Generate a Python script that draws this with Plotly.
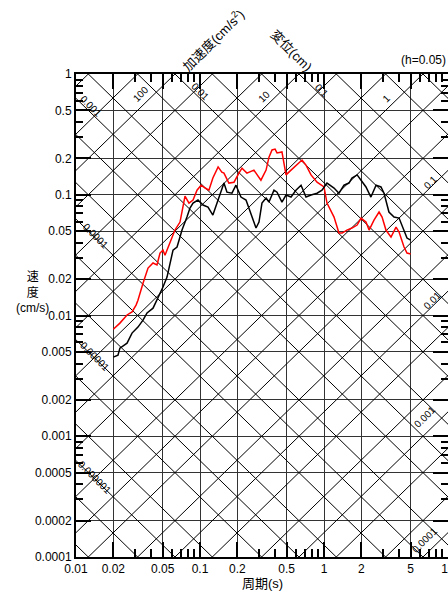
import numpy as np
import plotly.graph_objects as go

# response spectra (period s, pseudo velocity cm/s), h=0.05
red_T = [0.020, 0.0226, 0.0258, 0.0283, 0.0305, 0.0316, 0.0347, 0.0381, 0.0418, 0.045,
         0.0476, 0.0503, 0.0522, 0.0552, 0.0594, 0.0628, 0.069, 0.073, 0.0757, 0.0815,
         0.0879, 0.0946, 0.102, 0.110, 0.118, 0.127, 0.140, 0.150, 0.156, 0.171,
         0.188, 0.206, 0.218, 0.239, 0.272, 0.310, 0.341, 0.360, 0.381, 0.403,
         0.418, 0.458, 0.494, 0.542, 0.594, 0.665, 0.716, 0.786, 0.879, 1.0,
         1.057, 1.205, 1.32, 1.40, 1.53, 1.68, 1.85, 1.99, 2.18, 2.31,
         2.53, 2.78, 2.94, 3.16, 3.47, 3.81, 4.03, 4.42, 4.67, 5.0]
red_sv = [0.0077, 0.00865, 0.0101, 0.0107, 0.0122, 0.0134, 0.0185, 0.0247, 0.0272, 0.0262,
          0.0329, 0.0348, 0.0316, 0.0362, 0.0446, 0.051, 0.0594, 0.0822, 0.0976, 0.0853,
          0.0904, 0.109, 0.120, 0.1137, 0.109, 0.1375, 0.170, 0.154, 0.151, 0.125,
          0.127, 0.151, 0.166, 0.151, 0.160, 0.132, 0.160, 0.205, 0.235, 0.239,
          0.222, 0.226, 0.146, 0.160, 0.176, 0.194, 0.176, 0.146, 0.127, 0.116,
          0.0853, 0.0653, 0.0482, 0.0482, 0.051, 0.053, 0.0561, 0.0641, 0.0594, 0.051,
          0.0617, 0.0719, 0.0653, 0.051, 0.0446, 0.054, 0.0491, 0.0369, 0.0329, 0.0323]

black_T = [0.020, 0.0218, 0.0226, 0.0258, 0.0283, 0.0316, 0.0347, 0.0374, 0.0418, 0.045,
           0.0503, 0.0542, 0.0573, 0.0606, 0.0653, 0.0716, 0.0785, 0.083, 0.0879, 0.0963,
           0.1057, 0.116, 0.127, 0.140, 0.150, 0.156, 0.165, 0.181, 0.195, 0.214,
           0.235, 0.258, 0.283, 0.299, 0.316, 0.341, 0.360, 0.395, 0.418, 0.458,
           0.494, 0.542, 0.594, 0.653, 0.716, 0.786, 0.879, 0.963, 1.057, 1.205,
           1.32, 1.45, 1.59, 1.68, 1.85, 1.99, 2.18, 2.39, 2.63, 2.88,
           3.05, 3.34, 3.67, 4.03, 4.42, 4.67, 5.0]
black_sv = [0.00452, 0.0047, 0.00537, 0.0059, 0.00715, 0.00802, 0.00916, 0.0105, 0.0115, 0.0134,
            0.0172, 0.0208, 0.0262, 0.0348, 0.0369, 0.051, 0.0653, 0.0776, 0.0853, 0.0904,
            0.0822, 0.0791, 0.0679, 0.0904, 0.109, 0.125, 0.105, 0.103, 0.120, 0.0957,
            0.0904, 0.0705, 0.053, 0.0594, 0.0853, 0.0939, 0.087, 0.109, 0.105, 0.087,
            0.0995, 0.0957, 0.109, 0.120, 0.0957, 0.0995, 0.103, 0.109, 0.125, 0.1137,
            0.103, 0.120, 0.125, 0.1375, 0.146, 0.132, 0.116, 0.0957, 0.120, 0.116,
            0.103, 0.0719, 0.0653, 0.0641, 0.051, 0.0438, 0.0421]

# axes ticks
x_ticks = [0.01, 0.02, 0.05, 0.1, 0.2, 0.5, 1, 2, 5, 10]
x_labels = ["0.01", "0.02", "0.05", "0.1", "0.2", "0.5", "1", "2", "5", "10"]
y_ticks = [0.0001, 0.0002, 0.0005, 0.001, 0.002, 0.005, 0.01, 0.02, 0.05, 0.1, 0.2, 0.5, 1]
y_labels = ["0.0001", "0.0002", "0.0005", "0.001", "0.002", "0.005", "0.01", "0.02",
            "0.05", "0.1", "0.2", "0.5", "1"]

# diagonal grid values (1-2-5 series)
disp_vals = [m * 10.0 ** k for k in range(-7, 1) for m in (1, 2, 5)]
acc_vals = [m * 10.0 ** k for k in range(-5, 4) for m in (1, 2, 5)]

# diagonal labels: (text, pixel x, pixel y)
acc_labels = [("100", 140, 94), ("10", 264, 96), ("1", 386, 98),
              ("0.1", 430, 182), ("0.01", 432, 300), ("0.001", 424, 417), ("0.0001", 424, 540)]
disp_labels = [("0.001", 90, 106), ("0.0001", 95, 236), ("0.00001", 95, 356),
               ("0.000001", 95, 477), ("0.01", 200, 92), ("0.1", 322, 90)]

W, H = 448, 593
L, R, T, B = 76, 0, 74, 36
FONT = "Liberation Sans, Arial, Noto Sans CJK JP"


def paper(px, py):
    return (px - L) / (W - L - R), (H - B - py) / (H - T - B)


def minor_vals(lo, hi):
    out = []
    for k in range(lo, hi):
        for m in (3, 4, 6, 7, 8, 9):
            out.append(m * 10.0 ** k)
    return out


fig = go.Figure()
t_end = np.array([0.005, 20.0])
for d in disp_vals:
    fig.add_trace(go.Scatter(x=t_end, y=2 * np.pi * d / t_end, mode="lines",
                             line=dict(color="black", width=1), hoverinfo="skip", showlegend=False))
for a in acc_vals:
    fig.add_trace(go.Scatter(x=t_end, y=a * t_end / (2 * np.pi), mode="lines",
                             line=dict(color="black", width=1), hoverinfo="skip", showlegend=False))

fig.add_trace(go.Scatter(x=red_T, y=red_sv, mode="lines",
                         line=dict(color="#ff0000", width=1.5), showlegend=False))
fig.add_trace(go.Scatter(x=black_T, y=black_sv, mode="lines",
                         line=dict(color="black", width=1.5), showlegend=False))


def label(txt, px, py, size, angle=0, xanchor="center"):
    xp, yp = paper(px, py)
    return dict(x=xp, y=yp, text=txt, textangle=angle, showarrow=False,
                xref="paper", yref="paper", xanchor=xanchor, yanchor="middle",
                font=dict(size=size, color="black", family=FONT))


ann = []
for txt, px, py in acc_labels:
    ann.append(label(txt, px, py, 10, -45))
for txt, px, py in disp_labels:
    ann.append(label(txt, px, py, 10, 45))

ann.append(label("加速度(cm/s<sup>2</sup>)", 213, 40, 13, -45))
ann.append(label("変位(cm)", 291, 51, 13, 45))
ann.append(label("(h=0.05)", 448, 60, 12, xanchor="right"))
ann.append(label("速<br>度<br>(cm/s)", 32, 292, 12))
ann.append(label("周期(s)", 262, 583, 13))

axis_common = dict(
    type="log", showline=True, linecolor="black", linewidth=2, mirror="ticks",
    ticks="inside", ticklen=15, tickwidth=2, tickcolor="black",
    showgrid=True, gridcolor="#333333", gridwidth=1, zeroline=False,
    tickfont=dict(size=12, color="black", family=FONT), automargin=False,
    ticklabeloverflow="allow",
)

fig.update_xaxes(range=[-2, 1], tickmode="array", tickvals=x_ticks, ticktext=x_labels,
                 minor=dict(tickmode="array", tickvals=minor_vals(-2, 1), ticks="inside",
                            ticklen=8, tickwidth=2, tickcolor="black", showgrid=False),
                 **axis_common)
fig.update_yaxes(range=[-4, 0], tickmode="array", tickvals=y_ticks, ticktext=y_labels,
                 minor=dict(tickmode="array", tickvals=minor_vals(-4, 0), ticks="inside",
                            ticklen=7, tickwidth=2, tickcolor="black", showgrid=False),
                 **axis_common)

fig.update_layout(width=W, height=H, margin=dict(l=L, r=R, t=T, b=B),
                  paper_bgcolor="white", plot_bgcolor="white", annotations=ann,
                  font=dict(family=FONT, color="black"))

# drop the default page margin so the figure fills the window exactly
fig.write_html("out.html", config={"displayModeBar": False},
               post_script="document.body.style.margin='0';")
